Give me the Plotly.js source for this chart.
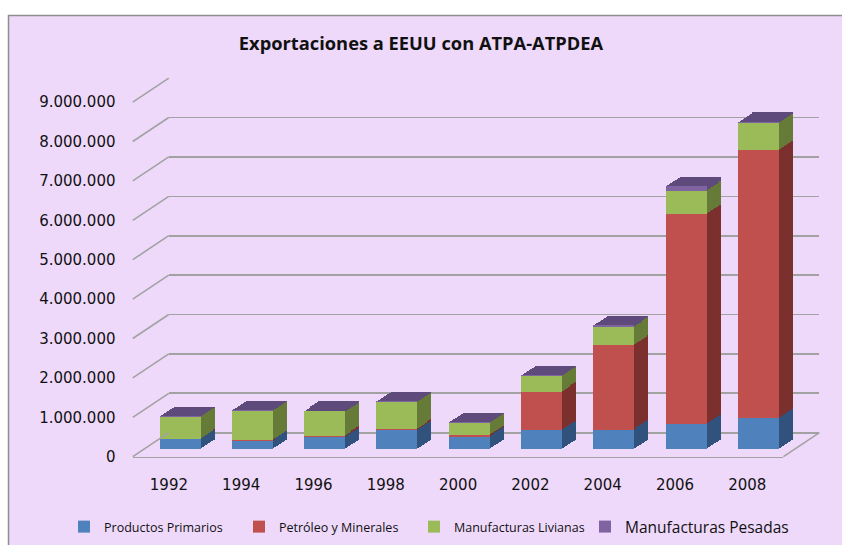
<!DOCTYPE html>
<html>
<head>
<meta charset="utf-8">
<script src="https://cdn.plot.ly/plotly-3.0.1.min.js"></script>
<style>html,body{margin:0;padding:0;background:#fff;}#chart{width:842px;height:545px;}</style>
</head>
<body>
<div id="chart"></div>
<script>
// ---- data ----
const years = ['1992','1994','1996','1998','2000','2002','2004','2006','2008'];
const productosPrimarios   = [260000, 220000, 300000, 490000, 320000, 480000, 500000, 630000, 790000];
const petroleoMinerales    = [5000, 5000, 45000, 30000, 40000, 980000, 2150000, 5330000, 6800000];
const manufLivianas        = [565000, 755000, 620000, 690000, 315000, 410000, 460000, 600000, 680000];
const manufPesadas         = [15000, 15000, 15000, 15000, 20000, 15000, 40000, 110000, 40000];
const seriesNames = ['Productos Primarios', 'Petróleo y Minerales', 'Manufacturas Livianas', 'Manufacturas Pesadas'];
const yTicks = [0, 1000000, 2000000, 3000000, 4000000, 5000000, 6000000, 7000000, 8000000, 9000000];

// ---- geometry (pseudo-3D planes) ----
const W = 842, H = 545;
const fx = p => p / W, fy = p => 1 - p / H;
const YMAX = 9000000, PXU = 39.4 / 1000000;
const FRONT_Y0 = 456.7, X0 = 132.75, STEP = 72.3, DX = 36, DY = 24;
const xdom = t => [fx(X0 + DX * t), fx(X0 + DX * t + 9 * STEP)];
const ydom = t => [fy(FRONT_Y0 - DY * t), fy(FRONT_Y0 - DY * t - YMAX * PXU)];
const py = (t, v) => FRONT_Y0 - DY * t - v * PXU;
const T_FRONT = 0.31, T_BACK = 0.70, NLAYERS = 9;
const stepDepth = (DY * (T_BACK - T_FRONT) / NLAYERS) / PXU;

const front = ['#4F81BD', '#C0504D', '#9BBB59', '#8064A2'];
const side  = ['#30527C', '#7B302E', '#667B38', '#5E4A7B'];
const series = [productosPrimarios, petroleoMinerales, manufLivianas, manufPesadas];
const totals = years.map((_, i) => series.reduce((s, a) => s + a[i], 0));
const BW = 0.567;

const gridCol = '#A2A2A2';
const hidden = {showgrid:false, zeroline:false, showticklabels:false, showline:false, ticks:''};
const catX = t => Object.assign({type:'category', domain: xdom(t), range:[-0.5, 8.5], fixedrange:true}, hidden);
const valY = t => Object.assign({domain: ydom(t), range:[0, YMAX], fixedrange:true}, hidden);

const traces = [];
const layout = {
  width: W, height: H, margin:{l:0, r:0, t:0, b:0, autoexpand:false},
  paper_bgcolor:'#ffffff', plot_bgcolor:'rgba(0,0,0,0)',
  separators: ',.', barmode:'stack', hovermode:false,
  font:{family:'DejaVu Sans', color:'#111'},
  title:{text:'<b>Exportaciones a EEUU con ATPA-ATPDEA</b>', x:0.5, xref:'paper', xanchor:'center',
    y: fy(44), yref:'paper', yanchor:'middle', font:{family:'Open Sans', size:18.3, color:'#111'}},
  xaxis: catX(1),
  yaxis: Object.assign(valY(1), {showgrid:true, gridcolor:gridCol, gridwidth:1.6, tickvals: yTicks,
    zeroline:true, zerolinecolor:gridCol, zerolinewidth:1.6}),
  xaxis2: Object.assign(catX(0), {anchor:'y2', showticklabels:true, showline:true, linecolor:gridCol, linewidth:1.6,
    ticklabelstandoff: 14, tickfont:{family:'DejaVu Sans', size:15, color:'#111'}}),
  yaxis2: Object.assign(valY(0), {anchor:'free', position: fx(115.5), showticklabels:true, tickvals: yTicks,
    tickformat:',d', tickfont:{family:'DejaVu Sans', size:15, color:'#111'}}),
  showlegend: true,
  legend:{orientation:'h', x: fx(64), xanchor:'left', y: fy(527), yanchor:'middle', yref:'paper',
    bgcolor:'rgba(0,0,0,0)', font:{family:'Open Sans', size:12.5, color:'#111'},
    entrywidth: 130, entrywidthmode:'pixels', traceorder:'normal', itemclick:false},
  legend2:{orientation:'h', x: fx(585), xanchor:'left', y: fy(527), yanchor:'middle', yref:'paper',
    bgcolor:'rgba(0,0,0,0)', font:{family:'Open Sans', size:15.5, color:'#111'}, itemclick:false}
};

// helper traces so the wall and label planes know their categories
traces.push({type:'scatter', x: years, y: years.map(() => 0), xaxis:'x', yaxis:'y', mode:'markers',
  marker:{opacity:0}, showlegend:false, hoverinfo:'skip'});
traces.push({type:'scatter', x: years, y: years.map(() => 0), xaxis:'x2', yaxis:'y2', mode:'markers',
  marker:{opacity:0}, showlegend:false, hoverinfo:'skip'});

// depth layers (back to front): dark side faces with a dark-purple top strip
let axId = 3;
for (let j = NLAYERS; j >= 1; j--) {
  const t = T_FRONT + (T_BACK - T_FRONT) * j / NLAYERS;
  const xa = 'x' + axId, ya = 'y' + axId;
  layout['xaxis' + axId] = Object.assign(catX(t), {anchor: ya});
  layout['yaxis' + axId] = Object.assign(valY(t), {anchor: xa});
  series.forEach((s, k) => traces.push({type:'bar', x: years, y: s, xaxis: xa, yaxis: ya, width: BW,
    marker:{color: side[k], line:{width:0}}, showlegend:false, hoverinfo:'skip'}));
  traces.push({type:'bar', x: years, y: years.map(() => stepDepth * 1.15), base: totals.map(v => v - stepDepth * 1.15),
    xaxis: xa, yaxis: ya, width: BW, marker:{color: side[3], line:{width:0}}, showlegend:false, hoverinfo:'skip'});
  axId++;
}
// front faces
const fxa = 'x' + axId, fya = 'y' + axId;
layout['xaxis' + axId] = Object.assign(catX(T_FRONT), {anchor: fya});
layout['yaxis' + axId] = Object.assign(valY(T_FRONT), {anchor: fxa});
series.forEach((s, k) => traces.push({type:'bar', x: years, y: s, xaxis: fxa, yaxis: fya, width: BW,
  name: seriesNames[k], legend: k === 3 ? 'legend2' : 'legend',
  marker:{color: front[k], line:{width:0}}}));

const shapes = [{type:'rect', xref:'paper', yref:'paper', x0: fx(8.5), x1: fx(860), y0: fy(15.5), y1: fy(570),
  fillcolor:'#EFD9FB', line:{color:'#8E8E8E', width:1.5}, layer:'below'}];
yTicks.forEach(v => shapes.push({type:'line', xref:'paper', yref:'paper',
  x0: fx(X0), y0: fy(py(0, v)), x1: fx(X0 + DX), y1: fy(py(1, v)), line:{color: gridCol, width:1.6}}));
shapes.push({type:'line', xref:'paper', yref:'paper', x0: fx(X0 + 9 * STEP), y0: fy(py(0, 0)),
  x1: fx(X0 + 9 * STEP + DX), y1: fy(py(1, 0)), line:{color: gridCol, width:1.6}});
layout.shapes = shapes;

Plotly.newPlot('chart', traces, layout, {displayModeBar:false, staticPlot:true});
</script>
</body>
</html>
